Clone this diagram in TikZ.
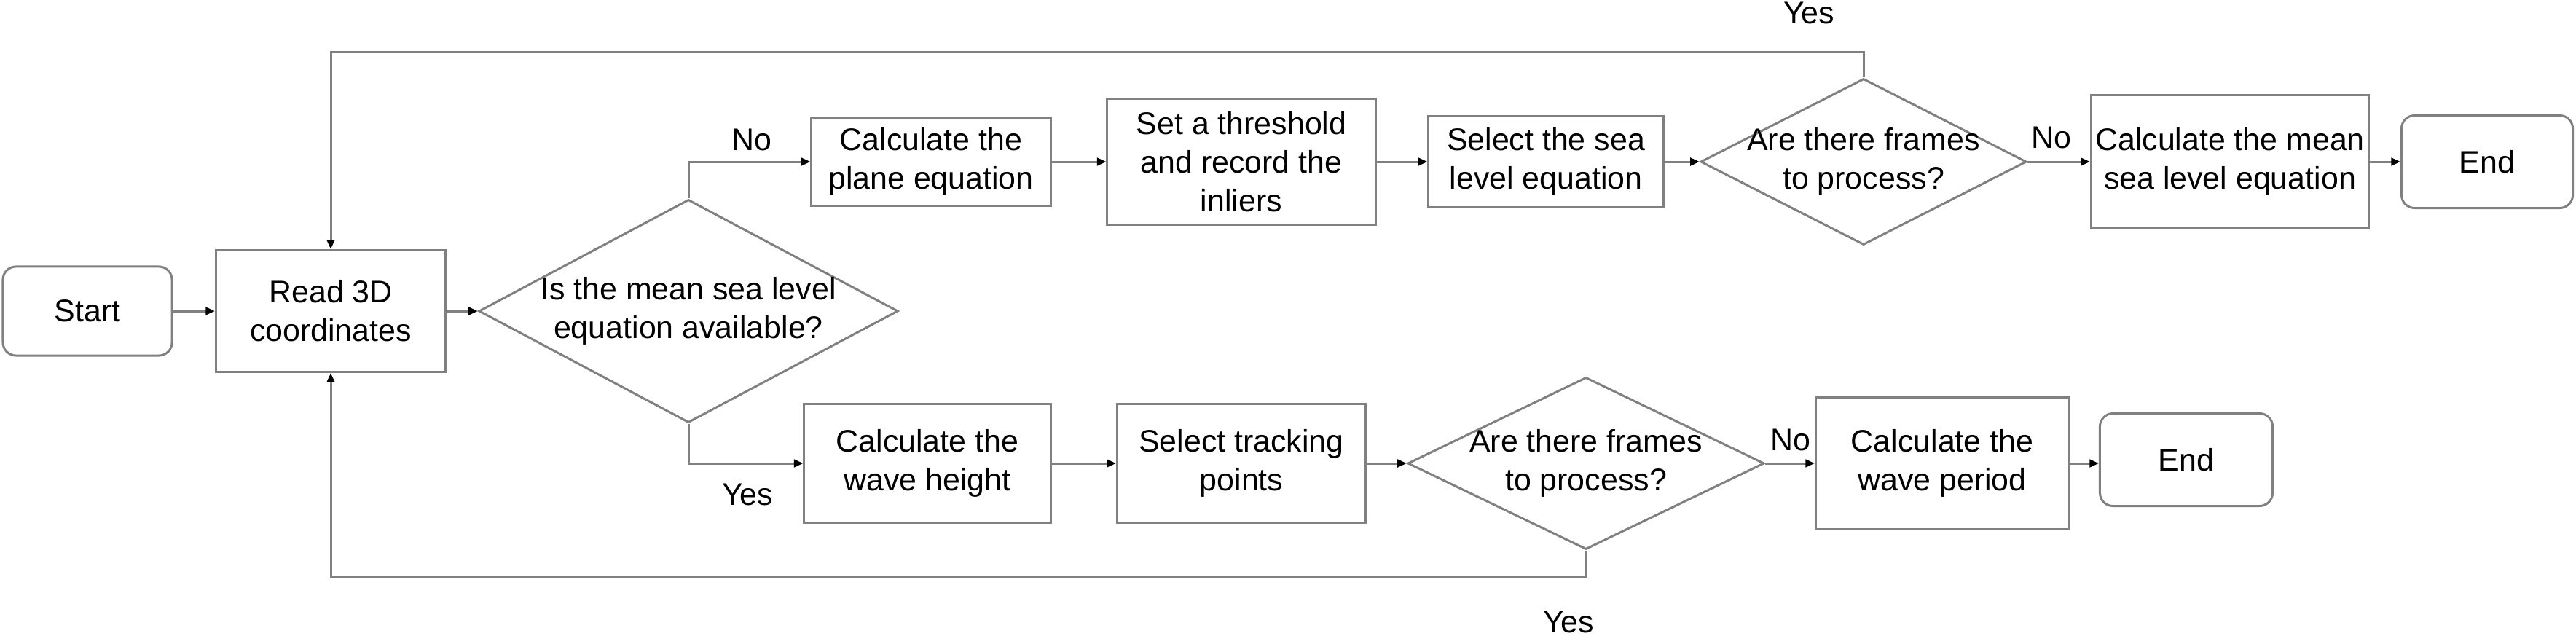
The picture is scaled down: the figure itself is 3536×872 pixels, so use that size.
\documentclass[tikz,border=0pt]{standalone}
\usepackage{fontspec}
\setmainfont{Liberation Sans}
\usetikzlibrary{shapes.geometric,arrows.meta}
\definecolor{lineg}{HTML}{808080}
\tikzset{
  txt/.style={font=\fontsize{12.2}{15}\selectfont, align=center, text=black, inner sep=0pt},
  box/.style={txt, draw=lineg, line width=0.85pt, rectangle},
  term/.style={box, rounded corners=0.18cm},
  dia/.style={draw=lineg, line width=0.85pt, diamond, inner sep=0pt},
  arr/.style={draw=lineg, line width=0.85pt, -{Triangle[length=3.6pt,width=3pt,color=black]}},
  lbl/.style={txt}
}
\begin{document}
\begin{tikzpicture}[x=0.01cm,y=-0.01cm]
\useasboundingbox (0,0) rectangle (3536,872);
% nodes
\node[term, minimum width=2.32cm, minimum height=1.22cm] (start) at (120,427) {Start};
\node[box, minimum width=3.15cm, minimum height=1.67cm] (read) at (454,427) {Read 3D\\coordinates};
\node[dia, minimum width=5.75cm, minimum height=3.06cm] (d1) at (945,427) {};
\node[txt] (d1t) at (945,427) {Is the mean sea level\\equation available?};
% top row
\node[box, minimum width=3.28cm, minimum height=1.20cm] (plane) at (1278,222) {Calculate the\\plane equation};
\node[box, minimum width=3.68cm, minimum height=1.73cm] (thresh) at (1704,222) {Set a threshold\\and record the\\inliers};
\node[box, minimum width=3.22cm, minimum height=1.24cm] (sea) at (2122,222) {Select the sea\\level equation};
\node[dia, minimum width=4.47cm, minimum height=2.28cm] (d2) at (2558,222) {};
\node[txt] (d2t) at (2558,222) {Are there frames\\to process?};
\node[box, minimum width=3.81cm, minimum height=1.83cm] (mean) at (3061,222) {Calculate the mean\\sea level equation};
\node[term, minimum width=2.35cm, minimum height=1.27cm] (end1) at (3414,222) {End};
% bottom row
\node[box, minimum width=3.38cm, minimum height=1.62cm] (wave) at (1273,636) {Calculate the\\wave height};
\node[box, minimum width=3.41cm, minimum height=1.62cm] (track) at (1704,636) {Select tracking\\points};
\node[dia, minimum width=4.89cm, minimum height=2.36cm] (d3) at (2177,636) {};
\node[txt] (d3t) at (2177,636) {Are there frames\\to process?};
\node[box, minimum width=3.47cm, minimum height=1.81cm] (period) at (2666,636) {Calculate the\\wave period};
\node[term, minimum width=2.37cm, minimum height=1.27cm] (end2) at (3001,631) {End};
% loop corners
\coordinate (tl) at (454,71);
\coordinate (bl) at (454,791);
% labels
\node[lbl] (lno1) at (1032,192) {No};
\node[lbl] (lyes1) at (1026,679) {Yes};
\node[lbl] (lno2) at (2816,189) {No};
\node[lbl] (lyes2) at (2483,18) {Yes};
\node[lbl] (lno3) at (2458,604) {No};
\node[lbl] (lyes3) at (2153,854) {Yes};
% connectors
\draw[arr] (start) -- (read);
\draw[arr] (read) -- (d1.west);
\draw[arr] (d1.north) |- (plane.west);
\draw[arr] (d1.south) |- (wave.west);
\draw[arr] (plane) -- (thresh);
\draw[arr] (thresh) -- (sea);
\draw[arr] (sea) -- (d2.west);
\draw[arr] (d2.east) -- (mean);
\draw[arr] (mean) -- (end1);
\draw[arr] (d2.north) |- (tl) -- (read.north);
\draw[arr] (wave) -- (track);
\draw[arr] (track) -- (d3.west);
\draw[arr] (d3.east) -- (period);
\draw[arr] (period) -- (period.east -| end2.west);
\draw[arr] (d3.south) |- (bl) -- (read.south);
\end{tikzpicture}
\end{document}
